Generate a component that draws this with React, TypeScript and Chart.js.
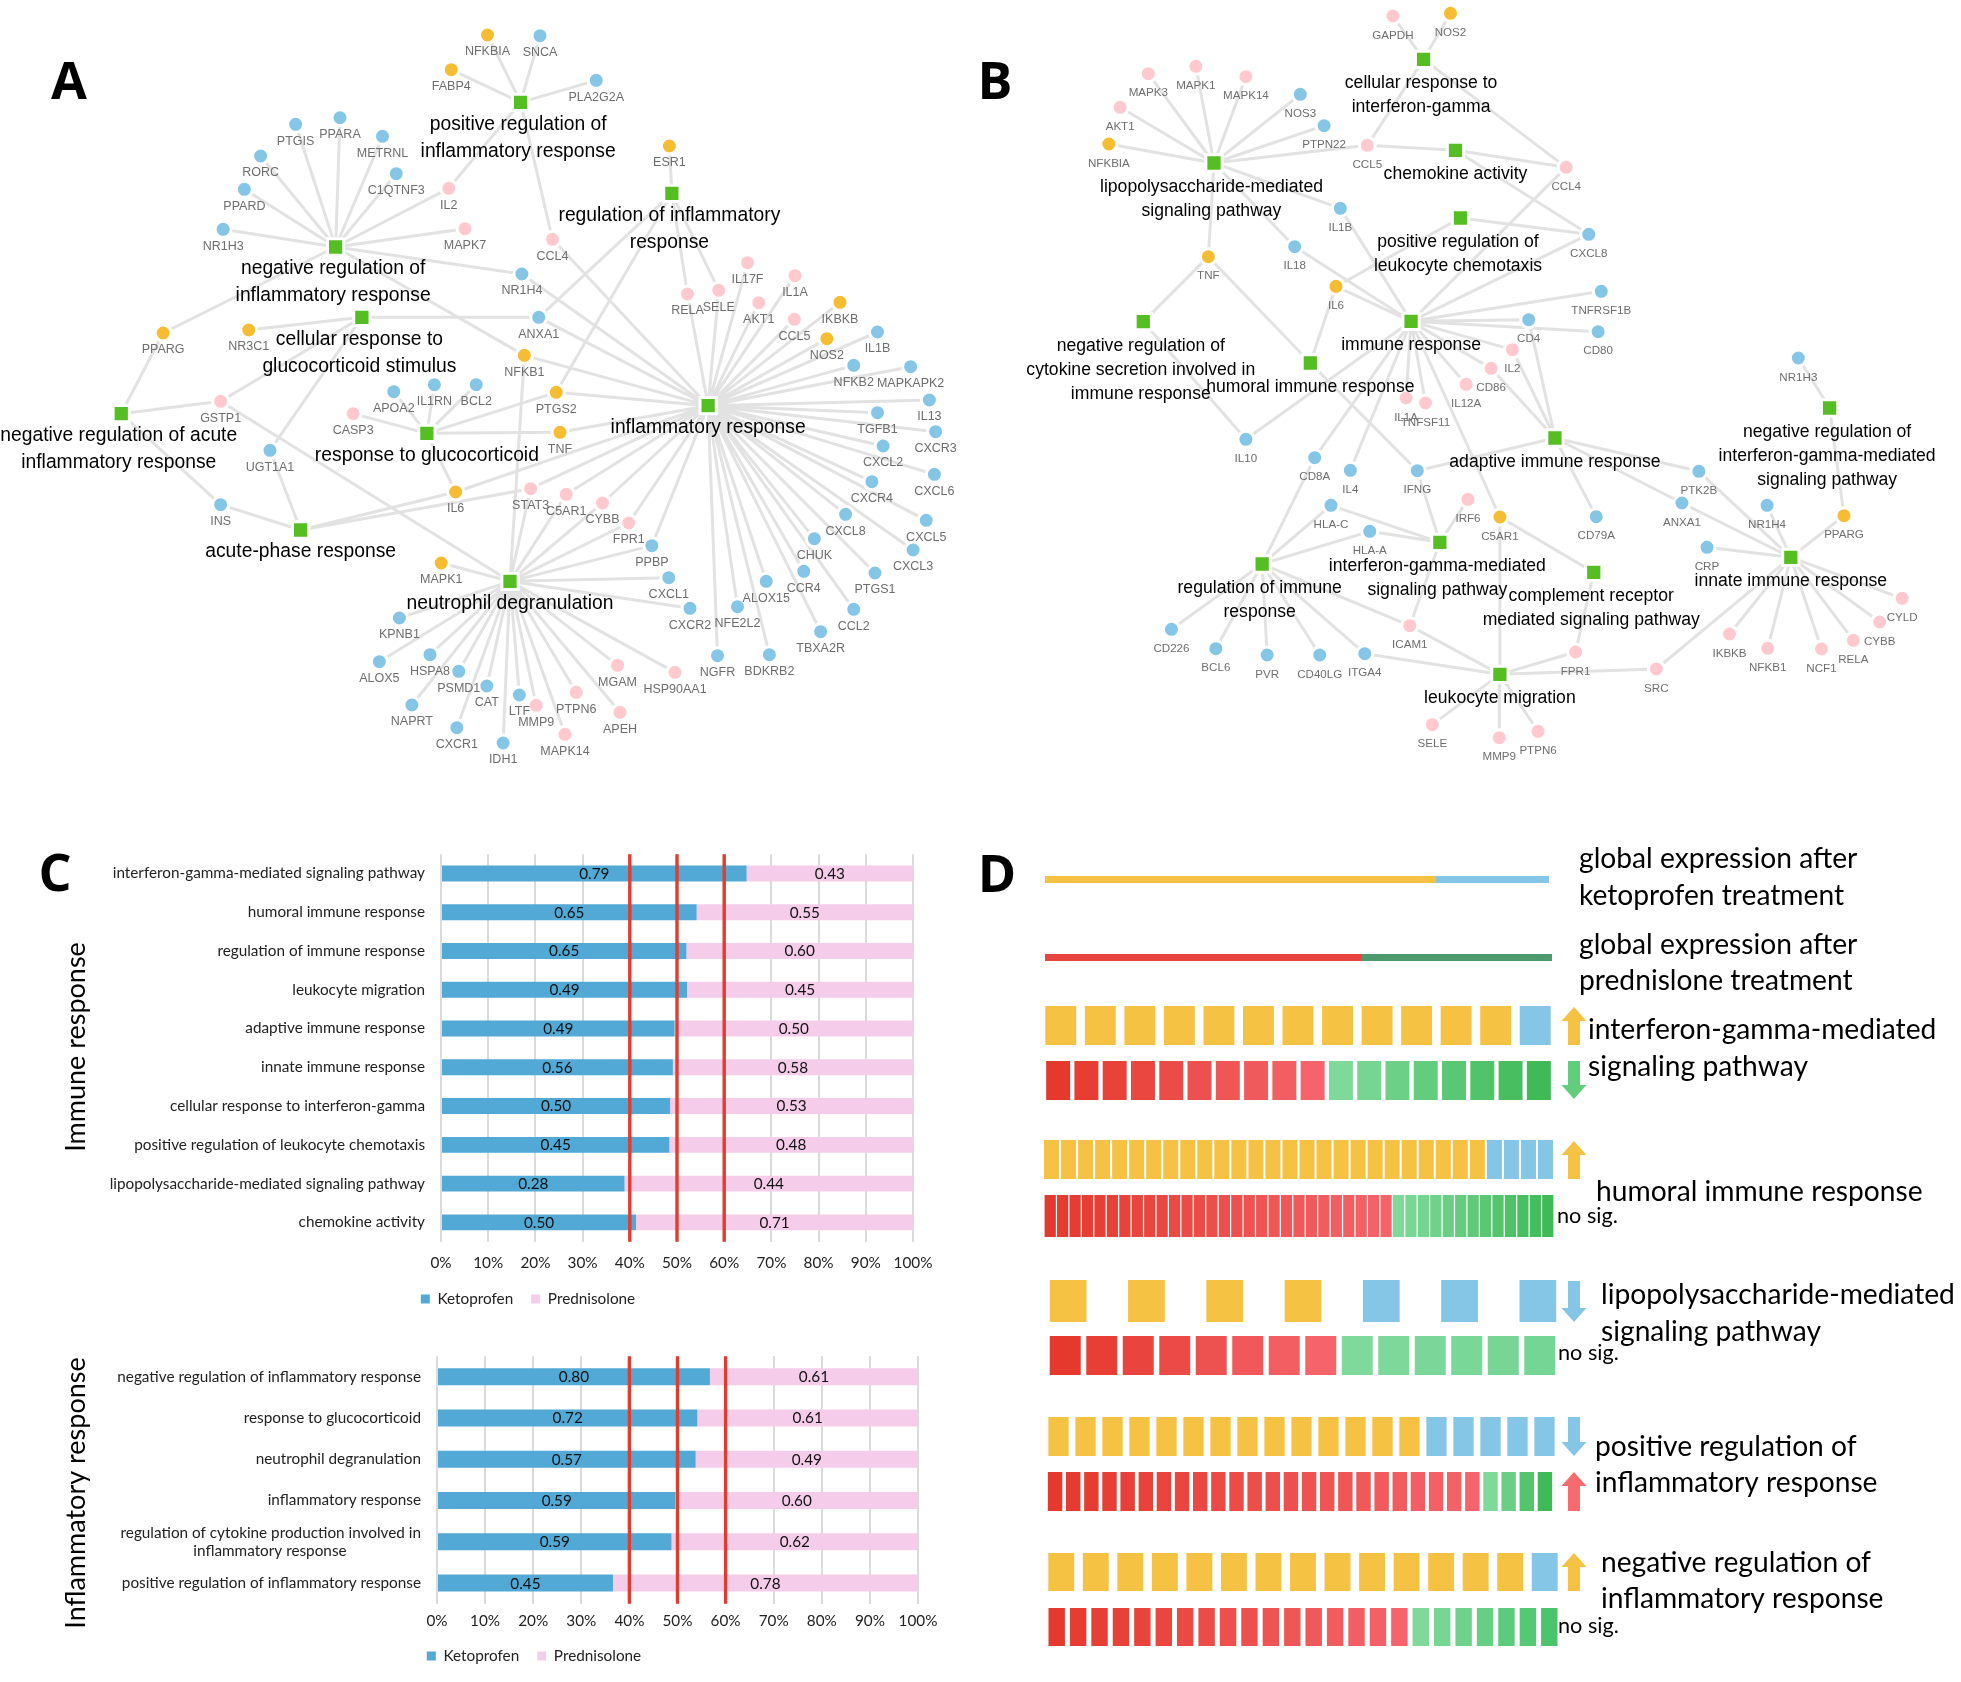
import React, { useEffect, useRef } from "react";
import { Chart, registerables } from "chart.js";
Chart.register(...registerables);

// ---------- Panel A network (crop units; second list continues 1200 units lower) ----------
const A_GENES_TOP: [string, number, number, string][] = [
  ["NFKBIA",780,105,"y"],["SNCA",864,107,"b"],["FABP4",722,209,"y"],["PLA2G2A",954,241,"b"],["ESR1",1071,438,"y"],
  ["PTGIS",473,373,"b"],["PPARA",544,353,"b"],["METRNL",612,409,"b"],["RORC",417,468,"b"],["C1QTNF3",634,521,"b"],
  ["PPARD",391,568,"b"],["IL2",718,565,"p"],["NR1H3",357,688,"b"],["MAPK7",744,686,"p"],["CCL4",884,718,"p"],
  ["NR1H4",835,822,"b"],["IL17F",1196,788,"p"],["IL1A",1272,827,"p"],["RELA",1100,882,"p"],["SELE",1150,871,"p"],
  ["AKT1",1214,908,"p"],["IKBKB",1344,907,"y"],["CCL5",1271,958,"p"],["ANXA1",862,952,"b"],["NR3C1",398,990,"y"],
  ["PPARG",261,999,"y"],["NOS2",1323,1016,"y"],["IL1B",1404,996,"b"],["NFKB1",839,1066,"y"],["NFKB2",1366,1096,"b"],
  ["MAPKAPK2",1457,1100,"b"],["PTGS2",890,1177,"y"],["BCL2",762,1154,"b"],["IL1RN",695,1154,"b"],["APOA2",630,1175,"b"],
  ["GSTP1",353,1204,"p"],["IL13",1487,1200,"b"],
];
const A_GENES_BOTTOM: [string, number, number, string][] = [
  ["TGFB1",1404,38,"b"],["CXCR3",1497,95,"b"],["CXCL2",1413,138,"b"],["CXCL6",1495,223,"b"],["CXCR4",1395,245,"b"],
  ["CASP3",565,41,"p"],["TNF",896,97,"y"],["UGT1A1",432,151,"b"],["IL6",729,276,"y"],["STAT3",849,266,"p"],
  ["C5AR1",906,283,"p"],["CYBB",964,309,"p"],["FPR1",1006,369,"p"],["INS",353,314,"b"],["CXCL8",1353,343,"b"],
  ["CXCL5",1482,361,"b"],["CHUK",1303,416,"b"],["PPBP",1043,437,"b"],["CXCL3",1461,450,"b"],["MAPK1",706,489,"y"],
  ["PTGS1",1400,519,"b"],["CXCL1",1070,533,"b"],["CCR4",1286,514,"b"],["ALOX15",1226,544,"b"],["CCL2",1366,628,"b"],
  ["CXCR2",1104,625,"b"],["NFE2L2",1180,620,"b"],["KPNB1",639,654,"b"],["TBXA2R",1313,695,"b"],["ALOX5",607,785,"b"],
  ["HSPA8",688,764,"b"],["PSMD1",734,814,"b"],["NGFR",1148,767,"b"],["BDKRB2",1231,764,"b"],["MGAM",988,796,"p"],
  ["HSP90AA1",1080,817,"p"],["CAT",779,858,"b"],["LTF",831,885,"b"],["PTPN6",922,877,"p"],["MMP9",858,916,"p"],
  ["NAPRT",659,915,"b"],["APEH",992,937,"p"],["CXCR1",731,983,"b"],["MAPK14",904,1003,"p"],["IDH1",805,1029,"b"],
];
const A_TERMS: [string, number, number, string[]][] = [
  ["positive regulation of\ninflammatory response",833,307,["NFKBIA","SNCA","FABP4","PLA2G2A","IL2","CCL4"]],
  ["negative regulation of\ninflammatory response",537,741,["PTGIS","PPARA","METRNL","RORC","C1QTNF3","PPARD","IL2","NR1H3","MAPK7","NR1H4","PPARG","NFKB1"]],
  ["regulation of inflammatory\nresponse",1075,580,["ESR1","ANXA1","PTGS2","RELA","SELE"]],
  ["cellular response to\nglucocorticoid stimulus",579,952,["ANXA1","NR3C1","GSTP1","UGT1A1"]],
  ["negative regulation of acute\ninflammatory response",194,1241,["PPARG","GSTP1","INS"]],
  ["response to glucocorticoid",683,1300,["CASP3","APOA2","IL1RN","BCL2","PTGS2","TNF","IL6"]],
  ["acute-phase response",481,1590,["INS","UGT1A1","IL6","STAT3"]],
  ["inflammatory response",1133,1217,["NFKB1","PTGS2","ANXA1","NR1H4","CCL4","TNF","IL6","STAT3","C5AR1","CYBB","FPR1","PPBP","RELA","SELE","IL17F","IL1A","AKT1","IKBKB","CCL5","NOS2","IL1B","NFKB2","MAPKAPK2","IL13","TGFB1","CXCR3","CXCL2","CXCL6","CXCR4","CXCL8","CXCL5","CHUK","CXCL3","PTGS1","CCR4","CCL2","TBXA2R","ALOX15","NFE2L2","NGFR","BDKRB2"]],
  ["neutrophil degranulation",816,1744,["MAPK1","GSTP1","NFKB1","STAT3","C5AR1","CYBB","FPR1","PPBP","CXCL1","CXCR2","KPNB1","ALOX5","HSPA8","PSMD1","CAT","LTF","PTPN6","MMP9","NAPRT","APEH","CXCR1","MAPK14","IDH1","MGAM","HSP90AA1"]],
];

// ---------- Panel B network ----------
const B_GENES_TOP: [string, number, number, string][] = [
  ["GAPDH",660,48,"p"],["NOS2",752,40,"y"],["MAPK3",269,221,"p"],["MAPK1",345,199,"p"],["MAPK14",425,230,"p"],
  ["NOS3",512,283,"b"],["AKT1",224,322,"p"],["PTPN22",550,377,"b"],["NFKBIA",206,432,"y"],["CCL5",619,436,"p"],
  ["CCL4",937,502,"p"],["IL1B",576,625,"b"],["CXCL8",973,703,"b"],["IL18",503,740,"b"],["TNF",365,770,"y"],
  ["IL6",569,859,"y"],["TNFRSF1B",993,874,"b"],["CD4",877,959,"b"],["CD80",988,995,"b"],["NR1H3",1308,1074,"b"],
  ["IL2",851,1049,"p"],["CD86",817,1105,"p"],["IL12A",777,1153,"p"],["IL1A",681,1194,"p"],["TNFSF11",712,1209,"p"],
];
const B_GENES_BOTTOM: [string, number, number, string][] = [
  ["IL10",425,118,"b"],["CD8A",535,173,"b"],["IL4",592,211,"b"],["IFNG",699,212,"b"],["PTK2B",1149,214,"b"],
  ["HLA-C",561,316,"b"],["ANXA1",1122,309,"b"],["NR1H4",1258,316,"b"],["IRF6",780,298,"p"],["C5AR1",831,351,"y"],
  ["CD79A",985,350,"b"],["PPARG",1381,347,"y"],["HLA-A",623,394,"b"],["CRP",1162,442,"b"],["CYLD",1474,595,"p"],
  ["CD226",306,688,"b"],["ICAM1",687,677,"p"],["CYBB",1438,666,"p"],["IKBKB",1198,702,"p"],["NFKB1",1259,745,"p"],
  ["NCF1",1345,747,"p"],["RELA",1396,721,"p"],["BCL6",377,746,"b"],["PVR",459,765,"b"],["CD40LG",543,765,"b"],
  ["ITGA4",615,761,"b"],["FPR1",952,756,"p"],["SRC",1081,807,"p"],["SELE",723,974,"p"],["PTPN6",892,994,"p"],["MMP9",830,1013,"p"],
];
const B_TERMS: [string, number, number, string[]][] = [
  ["cellular response to\ninterferon-gamma",709,178,["GAPDH","NOS2","CCL5","CCL4"]],
  ["lipopolysaccharide-mediated\nsignaling pathway",374,489,["MAPK3","MAPK1","MAPK14","NOS3","AKT1","PTPN22","NFKBIA","CCL5","IL1B","IL18","TNF"]],
  ["chemokine activity",760,451,["CCL5","CCL4","CXCL8"]],
  ["positive regulation of\nleukocyte chemotaxis",768,654,["CXCL8","IL6"]],
  ["immune response",689,964,["CCL4","CXCL8","IL1B","IL6","IL18","TNFRSF1B","CD4","CD80","IL2","CD86","IL12A","IL1A","TNFSF11","CD8A","IL4","IL10","C5AR1"]],
  ["negative regulation of\ncytokine secretion involved in\nimmune response",261,965,["TNF","IL10"]],
  ["humoral immune response",528,1089,["TNF","IL6","IFNG"]],
  ["negative regulation of\ninterferon-gamma-mediated\nsignaling pathway",1358,1224,["NR1H3","PPARG"]],
  ["adaptive immune response",919,1314,["CD4","IL2","CD86","IFNG","PTK2B","ANXA1","CD79A"]],
  ["interferon-gamma-mediated\nsignaling pathway",735,1627,["HLA-C","HLA-A","IFNG","IRF6","ICAM1"]],
  ["innate immune response",1296,1672,["PTK2B","ANXA1","NR1H4","PPARG","CRP","CYLD","CYBB","IKBKB","NFKB1","NCF1","RELA","SRC"]],
  ["regulation of immune\nresponse",451,1692,["CD8A","HLA-C","HLA-A","CD226","BCL6","PVR","CD40LG","ITGA4","ICAM1"]],
  ["complement receptor\nmediated signaling pathway",981,1717,["C5AR1","FPR1"]],
  ["leukocyte migration",831,2023,["C5AR1","ITGA4","ICAM1","FPR1","SRC","SELE","MMP9","PTPN6"]],
];

// ---------- Panel C ----------
const IMMUNE_TERMS = ["interferon-gamma-mediated signaling pathway","humoral immune response","regulation of immune response","leukocyte migration","adaptive immune response","innate immune response","cellular response to interferon-gamma","positive regulation of leukocyte chemotaxis","lipopolysaccharide-mediated signaling pathway","chemokine activity"];
const IMMUNE_KETO = [0.79,0.65,0.65,0.49,0.49,0.56,0.50,0.45,0.28,0.50];
const IMMUNE_PRED = [0.43,0.55,0.60,0.45,0.50,0.58,0.53,0.48,0.44,0.71];
const INFLAM_TERMS = ["negative regulation of inflammatory response","response to glucocorticoid","neutrophil degranulation","inflammatory response","regulation of cytokine production involved in\ninflammatory response","positive regulation of inflammatory response"];
const INFLAM_KETO = [0.80,0.72,0.57,0.59,0.59,0.45];
const INFLAM_PRED = [0.61,0.61,0.49,0.60,0.62,0.78];
const THRESHOLDS = [40,50,60];
const PERCENT_TICKS = [0,10,20,30,40,50,60,70,80,90,100];

// ---------- Panel D : number of genes in each direction ----------
const GLOBAL_KETO = [77.5,22.5];
const GLOBAL_PRED = [62.4,37.6];
const IFN_K = [12,1]; const IFN_P = [10,8];
const HUM_K = [26,4]; const HUM_P = [28,13];
const LPS_K = [4,3]; const LPS_P = [8,6];
const POS_K = [14,5]; const POS_P = [24,4];
const NEG_K = [14,1]; const NEG_P = [17,7];

const YELLOW = "#F6C244", BLUE = "#85C5E6", NODE_PINK = "#FFC9CE", NODE_BLUE = "#85C5E6", NODE_YELLOW = "#F6BD33", TERM = "#55BE22";
const hex = (c: string) => [1,3,5].map(i => parseInt(c.slice(i,i+2),16));
const mix = (a: string, b: string, t: number) => { const A = hex(a), B = hex(b); return `rgb(${A.map((v,i)=>Math.round(v+(B[i]-v)*t)).join(",")})`; };
const ramp = (n: number, a: string, b: string) => Array.from({length:n},(_,i)=>mix(a,b,n>1?i/(n-1):0));
const kColors = (c: number[]) => [...Array(c[0]).fill(YELLOW),...Array(c[1]).fill(BLUE)];
const pColors = (c: number[], greenEnd = "#3FBA56") => [...ramp(c[0],"#E5392D","#F4646A"),...ramp(c[1],"#7FD99B",greenEnd)];

function Canvas({make,left,top,width,height,z}: any) {
  const ref = useRef<HTMLCanvasElement>(null);
  useEffect(() => {
    const ch: any = make(ref.current!);
    return () => ch.destroy();
  }, []);
  return <canvas ref={ref} width={width} height={height} style={{position:"absolute",left,top,width,height,zIndex:z||1,display:"block"}} />;
}

const hidden = (min: number, max: number, reverse = false) => ({type:"linear",min,max,reverse,display:false});
const NO_PAD = {padding:0,autoPadding:false};

function Network({genesTop,genesBottom,terms,left,top,width,height,geneFont,termFont,geneDy,termDy,termPitch}: any) {
  const make = (c: any) => {
    const genes = [...genesTop, ...genesBottom.map((g: any) => [g[0],g[1],g[2]+1200,g[3]])];
    const pos: Record<string,{x:number,y:number}> = {};
    genes.forEach((g: any) => { pos[g[0]] = {x:g[1],y:g[2]}; });
    const edges: any[] = [];
    terms.forEach((t: any) => t[3].forEach((n: string) => { if (pos[n]) edges.push({x:t[1],y:t[2]},{...pos[n]},{x:null,y:null}); }));
    const pts = (k: string) => genes.filter((g: any) => g[3]===k).map((g: any) => ({x:g[1],y:g[2]}));
    const nodeDs = (k: string, color: string) => ({type:"scatter",data:pts(k),order:1,pointRadius:8,pointHoverRadius:8,pointBackgroundColor:color,pointBorderColor:"#fff",pointBorderWidth:3,clip:false});
    const labels = {
      id:"labels",
      afterDatasetsDraw(ch: any) {
        const {ctx,scales:{x,y}} = ch;
        ctx.save(); ctx.textAlign="center"; ctx.textBaseline="middle";
        ctx.font = geneFont; ctx.fillStyle="#6E6E6E";
        genes.forEach((g: any) => ctx.fillText(g[0],x.getPixelForValue(g[1]),y.getPixelForValue(g[2])+geneDy));
        ctx.font = termFont; ctx.fillStyle="#000";
        terms.forEach((t: any) => { const L = t[0].split("\n"); L.forEach((s: string,i: number) => ctx.fillText(s,x.getPixelForValue(t[1])+(L.length>1?-2.5:0),y.getPixelForValue(t[2])+termDy+i*termPitch)); });
        ctx.restore();
      }
    };
    return new Chart(c,{
      type:"scatter",
      data:{datasets:[
        {type:"line",data:edges,order:3,borderColor:"#E2E2E2",borderWidth:3,pointRadius:0,spanGaps:false,fill:false,tension:0},
        nodeDs("b",NODE_BLUE),nodeDs("p",NODE_PINK),nodeDs("y",NODE_YELLOW),
        {type:"scatter",data:terms.map((t: any)=>({x:t[1],y:t[2]})),order:0,pointStyle:"rect",pointRadius:11.5,pointHoverRadius:11.5,pointBackgroundColor:TERM,pointBorderColor:"#fff",pointBorderWidth:3},
      ]} as any,
      options:{responsive:false,animation:false,events:[],layout:NO_PAD,plugins:{legend:{display:false},tooltip:{enabled:false}},
        scales:{x:hidden(0,1568),y:hidden(0,2400,true)} as any},
      plugins:[labels],
    });
  };
  return <Canvas make={make} left={left} top={top} width={width} height={height} />;
}

const FONT = "Lato";
const C_SIZE = 15.3;
function StackedPanel({categories,keto,pred,left,top,width,height,plotLeft,plotRight,xHeight,tickPad,legendX,legendY}: any) {
  const make = (c: any) => {
    const total = keto.map((k: number,i: number)=>k+pred[i]);
    const deco = {
      id:"deco",
      afterLayout(ch: any) {
        const L = ch.legend, h = L.bottom-L.top, w = L.right-L.left;
        L.left = legendX-left-w/2; L.right = L.left+w;
        L.top = legendY-top-18-C_SIZE/2; L.bottom = L.top+h;
      },
      afterDatasetsDraw(ch: any) {
        const {ctx,scales:{x},chartArea:a} = ch;
        ctx.save();
        ctx.font=`${C_SIZE}px ${FONT}`; ctx.fillStyle="#111"; ctx.textAlign="center"; ctx.textBaseline="middle";
        [keto,pred].forEach((vals: number[],d: number) => ch.getDatasetMeta(d).data.forEach((el: any,i: number) => ctx.fillText(vals[i].toFixed(2),(el.x+el.base)/2,el.y+0.5)));
        ctx.strokeStyle="#E33B2E"; ctx.lineWidth=3.4;
        THRESHOLDS.forEach(v => { const p = x.getPixelForValue(v); ctx.beginPath(); ctx.moveTo(p,a.top); ctx.lineTo(p,a.bottom); ctx.stroke(); });
        ctx.restore();
      }
    };
    return new Chart(c,{
      type:"bar",
      data:{labels:categories,datasets:[
        {label:"Ketoprofen",data:keto.map((k: number,i: number)=>k/total[i]*100),backgroundColor:"#52A9D6",stack:"s",barPercentage:0.41,categoryPercentage:1},
        {label:"Prednisolone",data:pred.map((k: number,i: number)=>k/total[i]*100),backgroundColor:"#F5CDEB",stack:"s",barPercentage:0.41,categoryPercentage:1},
      ]},
      options:{indexAxis:"y",responsive:false,animation:false,events:[],
        layout:{autoPadding:false,padding:{left:0,top:0,bottom:0,right:width-(plotRight-left)}},
        plugins:{tooltip:{enabled:false},legend:{position:"bottom",labels:{boxWidth:9,boxHeight:9,padding:18,color:"#222",font:{family:FONT,size:C_SIZE}}}},
        scales:{
          x:{stacked:true,min:0,max:100,border:{display:false},grid:{color:"#DBDBDB",lineWidth:2,drawTicks:false},
            afterBuildTicks:(s: any)=>{s.ticks=PERCENT_TICKS.map(value=>({value}));},
            afterFit:(s: any)=>{s.height=xHeight;},
            ticks:{padding:tickPad,maxRotation:0,autoSkip:false,color:"#222",font:{family:FONT,size:C_SIZE},callback:(v: any)=>v+"%"}},
          y:{stacked:true,border:{display:false},grid:{display:false,drawTicks:false},
            afterFit:(s: any)=>{s.width=plotLeft-left;},
            ticks:{padding:16,autoSkip:false,color:"#222",font:{family:FONT,size:C_SIZE},
              callback(this: any,v: any){const L=String(this.getLabelForValue(v)).split("\n");return L.length>1?[L[0],L[1]+"\u00a0".repeat(19)]:L[0];}}},
        }} as any,
      plugins:[deco],
    });
  };
  return <Canvas make={make} left={left} top={top} width={width} height={height} />;
}

function GlobalBar({shares,colors,left,right,top,bottom}: any) {
  const make = (c: any) => new Chart(c,{
    type:"bar",
    data:{labels:[""],datasets:shares.map((s: number,i: number)=>({data:[s],backgroundColor:colors[i],barPercentage:1,categoryPercentage:1}))},
    options:{indexAxis:"y",responsive:false,animation:false,events:[],layout:NO_PAD,plugins:{legend:{display:false},tooltip:{enabled:false}},
      scales:{x:{stacked:true,min:0,max:100,display:false},y:{stacked:true,display:false}}} as any,
  });
  return <Canvas make={make} left={left} top={top} width={right-left} height={bottom-top} />;
}

function Strip({colors,left,right,top,bottom,gap}: any) {
  const n = colors.length;
  const pitch = (right-left+gap)/n;
  const make = (c: any) => new Chart(c,{
    type:"bar",
    data:{labels:colors.map((_: any,i: number)=>i+1),datasets:[{data:colors.map(()=>1),backgroundColor:colors,barPercentage:1-gap/pitch,categoryPercentage:1}]},
    options:{responsive:false,animation:false,events:[],layout:NO_PAD,plugins:{legend:{display:false},tooltip:{enabled:false}},
      scales:{x:{display:false},y:{min:0,max:1,display:false}}} as any,
  });
  return <Canvas make={make} left={left-gap/2} top={top} width={Math.round(pitch*n)} height={bottom-top} />;
}

// text and arrows that sit on top of everything
const LETTERS: [string,number,number][] = [["A",69,84],["B",995,84],["C",55,876],["D",997,877]];
const SIDE_TITLES: [string,number,number][] = [["Immune response",76,1047],["Inflammatory response",76,1493]];
const D_TEXT: [string,number,number][] = [
  ["global expression after",1579,859],["ketoprofen treatment",1579,896],["global expression after",1579,945],["prednislone treatment",1579,981],
  ["interferon-gamma-mediated",1588,1030],["signaling pathway",1588,1067],["humoral immune response",1596,1192],
  ["lipopolysaccharide-mediated",1601,1295],["signaling pathway",1601,1332],["positive regulation of",1595,1447],["inflammatory response",1595,1483],
  ["negative regulation of",1601,1563],["inflammatory response",1601,1599],
];
const NO_SIG: [string,number,number][] = [["no sig.",1557,1216],["no sig.",1558,1353],["no sig.",1558,1626]];
const ARROWS: [number,number,number,string][] = [
  [1574,1045,1007,YELLOW],[1574,1061,1099,"#62CE7D"],[1574,1179,1141,YELLOW],[1574,1281,1322,BLUE],
  [1574,1417,1456,BLUE],[1574,1511,1472,"#F76B70"],[1574,1591,1553,YELLOW],
];

function Overlay() {
  const make = (c: any) => new Chart(c,{
    type:"scatter",data:{datasets:[]},
    options:{responsive:false,animation:false,events:[],layout:NO_PAD,plugins:{legend:{display:false},tooltip:{enabled:false}},
      scales:{x:hidden(0,1961),y:hidden(0,1682,true)} as any},
    plugins:[{id:"overlay",afterDraw(ch: any){
      const {ctx,scales:{x,y}} = ch;
      ctx.save();
      ctx.fillStyle="#000"; ctx.textBaseline="middle";
      ctx.textAlign="center"; ctx.font=`bold 52px "Open Sans"`;
      LETTERS.forEach(([t,a,b])=>ctx.fillText(t,x.getPixelForValue(a),y.getPixelForValue(b)));
      ctx.font=`27px ${FONT}`;
      SIDE_TITLES.forEach(([t,a,b])=>{ctx.save();ctx.translate(x.getPixelForValue(a),y.getPixelForValue(b));ctx.rotate(-Math.PI/2);ctx.fillText(t,0,0);ctx.restore();});
      ctx.textAlign="left"; ctx.font=`28.2px ${FONT}`;
      D_TEXT.forEach(([t,a,b])=>ctx.fillText(t,x.getPixelForValue(a),y.getPixelForValue(b)));
      ctx.font=`21.7px ${FONT}`;
      NO_SIG.forEach(([t,a,b])=>ctx.fillText(t,x.getPixelForValue(a),y.getPixelForValue(b)));
      ARROWS.forEach(([a,from,to,color])=>{
        const px=x.getPixelForValue(a),p0=y.getPixelForValue(from),p1=y.getPixelForValue(to),dir=Math.sign(p1-p0),neck=p1-dir*14;
        ctx.fillStyle=color; ctx.beginPath();
        ctx.moveTo(px-6,p0);ctx.lineTo(px-6,neck);ctx.lineTo(px-12.5,neck);ctx.lineTo(px,p1);ctx.lineTo(px+12.5,neck);ctx.lineTo(px+6,neck);ctx.lineTo(px+6,p0);ctx.closePath();ctx.fill();
      });
      ctx.restore();
    }}],
  } as any);
  return <Canvas make={make} left={0} top={0} width={1961} height={1682} z={5} />;
}

export default function App() {
  return (
    <div style={{position:"absolute",left:0,top:0,width:1961,height:1682,overflow:"hidden",background:"#fff"}}>
      <Network genesTop={A_GENES_TOP} genesBottom={A_GENES_BOTTOM} terms={A_TERMS} left={0} top={0} width={980} height={800}
        geneFont='12.5px "Liberation Sans"' termFont='19.3px "Liberation Sans"' geneDy={17} termDy={22} termPitch={27} />
      <Network genesTop={B_GENES_TOP} genesBottom={B_GENES_BOTTOM} terms={B_TERMS} left={980} top={0} width={981} height={800}
        geneFont='11.6px "Liberation Sans"' termFont='17.6px "Liberation Sans"' geneDy={19.5} termDy={24} termPitch={24} />
      <StackedPanel categories={IMMUNE_TERMS} keto={IMMUNE_KETO} pred={IMMUNE_PRED} left={60} top={829} width={936} height={489} plotLeft={441} plotRight={913} xHeight={33} tickPad={12} legendX={528} legendY={1299} />
      <StackedPanel categories={INFLAM_TERMS} keto={INFLAM_KETO} pred={INFLAM_PRED} left={60} top={1331} width={948} height={349} plotLeft={437} plotRight={918} xHeight={33} tickPad={8} legendX={534} legendY={1656} />
      <GlobalBar shares={GLOBAL_KETO} colors={[YELLOW,BLUE]} left={1045} right={1549} top={876} bottom={883} />
      <GlobalBar shares={GLOBAL_PRED} colors={["#E8453F","#4C9A6E"]} left={1045} right={1552} top={954} bottom={961} />
      <Strip colors={kColors(IFN_K)} left={1045} right={1550} top={1006} bottom={1045} gap={8.6} />
      <Strip colors={pColors(IFN_P)} left={1046} right={1551} top={1061} bottom={1100} gap={4.3} />
      <Strip colors={kColors(HUM_K)} left={1044} right={1553} top={1140} bottom={1179} gap={2} />
      <Strip colors={pColors(HUM_P)} left={1045} right={1554} top={1195} bottom={1237} gap={1.2} />
      <Strip colors={kColors(LPS_K)} left={1050} right={1556} top={1280} bottom={1322} gap={41.5} />
      <Strip colors={pColors(LPS_P,"#75D595")} left={1050} right={1555} top={1336} bottom={1375} gap={5.5} />
      <Strip colors={kColors(POS_K)} left={1048} right={1554} top={1417} bottom={1456} gap={6.7} />
      <Strip colors={pColors(POS_P)} left={1048} right={1552} top={1472} bottom={1511} gap={3.7} />
      <Strip colors={kColors(NEG_K)} left={1048} right={1557} top={1553} bottom={1591} gap={8.6} />
      <Strip colors={pColors(NEG_P,"#4CC46C")} left={1048} right={1557} top={1608} bottom={1646} gap={5} />
      <Overlay />
    </div>
  );
}
